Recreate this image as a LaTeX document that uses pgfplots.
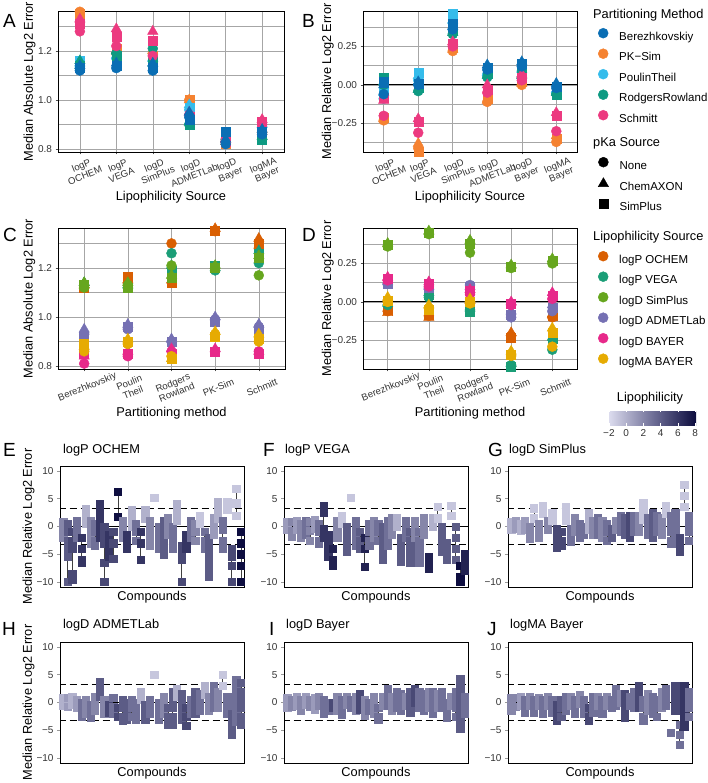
\documentclass[border=0pt]{standalone}
\usepackage{fontspec}
\setmainfont{Liberation Sans}
\usepackage{pgfplots}
\usepackage{pgfplotstable}
\pgfplotsset{compat=1.18}

\newcommand{\fT}{\fontsize{10}{11}\selectfont}
\newcommand{\fX}{\fontsize{9.6}{10.2}\selectfont}
\newcommand{\fL}{\fontsize{12.8}{14}\selectfont}
\newcommand{\fG}{\fontsize{11.5}{13}\selectfont}
\newcommand{\fP}{\fontsize{19}{21}\selectfont}

% partitioning methods
\definecolor{cB}{HTML}{0A6EB4}
\definecolor{cK}{HTML}{F58231}
\definecolor{cP}{HTML}{35BCEB}
\definecolor{cR}{HTML}{0E9A82}
\definecolor{cS}{HTML}{EC3A80}
% lipophilicity sources
\definecolor{cO}{HTML}{D95F02}
\definecolor{cV}{HTML}{1B9E77}
\definecolor{cL}{HTML}{66A61E}
\definecolor{cA}{HTML}{7570B3}
\definecolor{cY}{HTML}{E7298A}
\definecolor{cM}{HTML}{E6AB02}

\pgfplotsset{
  colormap={lipo}{rgb255=(222,222,240) rgb255=(112,112,152) rgb255=(12,12,62)},
  base/.style={scale only axis, anchor=south west,
    axis line style={black, line width=0.8pt},
    tick align=outside, major tick length=2.5pt, minor tick length=0pt,
    tick style={black!70, line width=0.5pt},
    xtick pos=left, ytick pos=left,
    ticklabel style={font=\fT, text=black!80},
    label style={font=\fL},
    /pgf/number format/assume math mode=true},
  sum/.style={base, height=141pt, grid=both,
    major grid style={black!35, line width=0.5pt},
    minor grid style={black!35, line width=0.5pt},
    xmin=-0.6,
    xticklabel style={font=\fX, rotate=22, anchor=center, align=center,
      yshift=-16pt, xshift=-3pt},
    ylabel style={anchor=center},
    xlabel style={anchor=center}},
  absy/.style={ymin=0.788, ymax=1.363, ytick={0.8,1.0,1.2},
    yticklabels={0.8,1.0,1.2}, minor ytick={0.9,1.1,1.3},
    ylabel={Median Absolute Log2 Error}},
  rely/.style={ymin=-0.435, ymax=0.48, ytick={-0.25,0,0.25},
    yticklabels={−0.25,0.00,0.25}, minor ytick={-0.375,-0.125,0.125,0.375},
    ylabel={Median Relative Log2 Error}},
  lipx/.style={xmax=5.6, xtick={0,...,5},
    xticklabels={{logP\\OCHEM},{logP\\VEGA},{logD\\SimPlus},{logD\\ADMETLab},{logD\\Bayer},{logMA\\Bayer}},
    xlabel={Lipophilicity Source}},
  parx/.style={xmax=4.6, xtick={0,...,4},
    xticklabels={Berezhkovskiy,{Poulin\\Theil},{Rodgers\\Rowland},PK-Sim,Schmitt},
    xlabel={Partitioning method}},
  cpd/.style={base, width=184pt, height=121pt, xmin=0.3, xmax=40.7,
    ymin=-10.9, ymax=10.9,
    ytick={-10,-5,0,5,10}, yticklabels={−10,−5,0,5,10},
    xtick=\empty, minor xtick={0.6,1.25,...,40.5},
    major tick length=3pt, minor tick length=3pt,
    tick style={black!40, line width=0.6pt},
    axis line style={black, line width=0.7pt},
    colormap name=lipo, point meta min=-2.1, point meta max=8.1,
    xlabel={Compounds},
    xlabel style={at={(axis description cs:0.5,-0.083)}, anchor=center},
    title style={anchor=west, font=\fL, inner sep=0pt}},
  cmark/.style={scatter, only marks, mark=square*, mark size=3.6pt,
    scatter/use mapped color={draw=mapped color, fill=mapped color},
    point meta=explicit, forget plot},
  lgd/.style={anchor=north west, hide axis, scale only axis, width=10pt, height=10pt,
    xmin=0, xmax=1, ymin=0, ymax=1,
    legend style={at={(axis description cs:0,1)}, anchor=north west, draw=none,
      fill=none, inner sep=0pt, font=\fG, row sep=6pt, column sep=11pt,
      nodes={inner sep=0pt, text height=8.5pt, text depth=2.5pt}},
    legend cell align=left,
    legend image code/.code={\draw[##1] plot coordinates {(0pt,4pt)};}},
}

% panel A: median absolute error, by lipophilicity source
\pgfplotstableread{
x Bc Bt Bs Kc Kt Ks Pc Pt Ps Rc Rt Rs Sc St Ss
0 1.12 1.14 1.13 1.36 1.37 1.35 1.14 1.15 1.16 1.13 1.16 1.14 1.28 1.33 1.31
1 1.13 1.15 1.14 1.19 1.20 1.21 1.17 1.18 1.16 1.19 1.20 1.18 1.22 1.29 1.26
2 1.12 1.15 1.13 1.19 1.20 1.18 1.16 1.17 1.14 1.21 1.15 1.16 1.18 1.28 1.24
3 0.93 0.95 0.92 1.00 1.00 1.00 0.96 0.98 0.97 0.90 0.91 0.90 0.94 0.95 0.93
4 0.82 0.84 0.87 0.83 0.83 0.82 0.83 0.84 0.85 0.84 0.84 0.83 0.83 0.84 0.83
5 0.86 0.88 0.87 0.86 0.88 0.87 0.89 0.90 0.88 0.84 0.85 0.84 0.90 0.92 0.91
}\tabA
% panel B: median relative error, by lipophilicity source
\pgfplotstableread{
x Bc Bt Bs Kc Kt Ks Pc Pt Ps Rc Rt Rs Sc St Ss
0 -0.06 0.00 0.02 -0.23 -0.22 -0.21 -0.09 -0.05 -0.02 0.00 0.02 0.05 -0.20 -0.10 -0.08
1 0.00 0.02 0.01 -0.41 -0.38 -0.43 0.03 0.06 0.08 -0.04 -0.03 -0.02 -0.31 -0.22 -0.24
2 0.36 0.38 0.40 0.22 0.23 0.24 0.40 0.42 0.46 0.33 0.34 0.35 0.25 0.28 0.27
3 0.10 0.13 0.11 -0.11 -0.10 -0.09 0.07 0.08 0.09 0.05 0.06 0.07 -0.05 0.00 -0.03
4 0.12 0.15 0.14 0.00 0.01 0.02 0.09 0.10 0.11 0.05 0.06 0.07 0.03 0.07 0.05
5 -0.02 0.01 -0.01 -0.37 -0.33 -0.35 -0.05 -0.03 -0.04 -0.06 -0.05 -0.06 -0.30 -0.18 -0.20
}\tabB
% panel C: median absolute error, by partitioning method
\pgfplotstableread{
x Oc Ot Os Vc Vt Vs Lc Lt Ls Ac At As Yc Yt Ys Mc Mt Ms
0 1.12 1.13 1.12 1.13 1.14 1.13 1.12 1.14 1.13 0.93 0.95 0.92 0.81 0.84 0.85 0.86 0.88 0.89
1 1.14 1.15 1.165 1.12 1.13 1.12 1.13 1.14 1.12 0.95 0.97 0.96 0.84 0.86 0.85 0.89 0.91 0.90
2 1.30 1.15 1.14 1.26 1.21 1.19 1.21 1.17 1.16 0.90 0.91 0.90 0.86 0.87 0.85 0.84 0.83 0.83
3 1.35 1.36 1.35 1.19 1.20 1.21 1.20 1.21 1.20 0.99 1.00 0.98 0.86 0.87 0.86 0.93 0.94 0.92
4 1.28 1.32 1.30 1.22 1.27 1.26 1.17 1.25 1.24 0.96 0.97 0.95 0.86 0.86 0.85 0.90 0.93 0.91
}\tabC
% panel D: median relative error, by partitioning method
\pgfplotstableread{
x Oc Ot Os Vc Vt Vs Lc Lt Ls Ac At As Yc Yt Ys Mc Mt Ms
0 -0.06 -0.07 -0.05 -0.02 -0.01 0.00 0.36 0.38 0.37 0.12 0.13 0.12 0.14 0.16 0.15 0.00 0.03 0.01
1 -0.09 -0.10 -0.08 0.03 0.06 0.05 0.44 0.46 0.45 0.09 0.10 0.09 0.10 0.13 0.12 -0.04 -0.02 -0.05
2 0.00 0.01 0.00 -0.05 -0.04 -0.06 0.32 0.40 0.38 0.11 0.10 0.10 0.05 0.08 0.07 -0.01 0.02 0.00
3 -0.22 -0.20 -0.23 -0.41 -0.40 -0.42 0.22 0.24 0.23 -0.10 -0.06 -0.08 -0.02 0.00 -0.01 -0.35 -0.32 -0.34
4 -0.10 -0.08 -0.09 -0.31 -0.23 -0.24 0.25 0.28 0.27 -0.06 -0.02 -0.04 0.02 0.06 0.04 -0.29 -0.17 -0.20
}\tabD

% per-compound errors: x = compound, y = relative log2 error, c = lipophilicity
\pgfplotstableread[row sep=\\]{
x y c\\
1 0.8 2\\1 -0.6 2\\1 -2 2\\1 nan 2\\
2 0.5 4\\2 -1 4\\2 -2.5 4\\2 -4 4\\2 -5.5 4\\2 -10 4\\2 nan 4\\
3 -1 5\\3 -2.5 5\\3 -4 5\\3 -8.5 5\\3 -9.5 5\\3 nan 5\\
4 1 3\\4 -0.5 3\\4 -2 3\\4 nan 3\\
5 -2 6\\5 -4 6\\5 -6 6\\5 -6.5 6\\5 nan 6\\
6 3.2 0\\6 1.8 0\\6 0.5 0\\6 nan 0\\
7 1 2\\7 -0.5 2\\7 -2 2\\7 -3 2\\7 nan 2\\
8 0.5 3\\8 -1 3\\8 -2.5 3\\8 -3.5 3\\8 nan 3\\
9 4 6\\9 2.5 6\\9 1 6\\9 -0.5 6\\9 -2 6\\9 nan 6\\
10 0 5\\10 -1.5 5\\10 -3 5\\10 -6.5 5\\10 -10 5\\10 nan 5\\
11 -1.5 6\\11 -3 6\\11 -4.5 6\\11 -5.5 6\\11 nan 6\\
12 -1 5\\12 -3 5\\12 -5.8 5\\12 nan 5\\
13 6.2 8\\13 1.8 8\\13 nan 8\\
14 1 2\\14 -0.5 2\\14 -2 2\\14 nan 2\\
15 -1.5 6\\15 -3 6\\15 -4 6\\15 nan 6\\
16 3 0\\16 1.5 0\\16 0 0\\16 nan 0\\
17 0.5 3\\17 -1 3\\17 -2.5 3\\17 nan 3\\
18 -1 6\\18 -3 6\\18 -6 6\\18 nan 6\\
19 3 0\\19 1.5 0\\19 nan 0\\
20 1 2\\20 -0.5 2\\20 -2 2\\20 -3.5 2\\20 nan 2\\
21 5.2 -1\\21 nan -1\\
22 0 3\\22 -1.5 3\\22 -3 3\\22 -4 3\\22 nan 3\\
23 1 4\\23 -0.5 4\\23 -2 4\\23 -3.5 4\\23 -5 4\\23 nan 4\\
24 1.5 2\\24 0 2\\24 -1.5 2\\24 nan 2\\
25 0 3\\25 -1.5 3\\25 -3 3\\25 -4 3\\25 nan 3\\
26 4 0\\26 2.5 0\\26 1 0\\26 nan 0\\
27 -3.5 5\\27 -5 5\\27 -6 5\\27 -10 5\\27 nan 5\\
28 -1.5 6\\28 -3 6\\28 -4 6\\28 nan 6\\
29 1 3\\29 -0.5 3\\29 -2 3\\29 nan 3\\
30 0.5 2\\30 -1 2\\30 -2.5 2\\30 nan 2\\
31 2 -1\\31 0.5 -1\\31 nan -1\\
32 -1 3\\32 -2.5 3\\32 -4 3\\32 nan 3\\
33 -2 4\\33 -3.5 4\\33 -5 4\\33 -6.5 4\\33 -8 4\\33 -9 4\\33 nan 4\\
34 1.5 1\\34 0 1\\34 -1.5 1\\34 nan 1\\
35 4.5 0\\35 3 0\\35 1.5 0\\35 nan 0\\
36 1 3\\36 -0.5 3\\36 -2.5 3\\36 -4 3\\36 nan 3\\
37 4.5 -1\\37 3 -1\\37 nan -1\\
38 -4 5\\38 -5.5 5\\38 -7 5\\38 -10 5\\38 nan 5\\
39 6.8 -1\\39 4.2 -1\\39 2 -1\\39 nan -1\\
40 -1 8\\40 -3 8\\40 -5 8\\40 -7 8\\40 -10 8\\40 nan 8\\
}\tabE
\pgfplotstableread[row sep=\\]{
x y c\\
1 0.8 1\\1 -0.5 1\\1 nan 1\\
2 0.8 2\\2 -0.7 2\\2 -1.8 2\\2 nan 2\\
3 1 1\\3 -0.5 1\\3 nan 1\\
4 0.5 2\\4 -1 2\\4 -2 2\\4 nan 2\\
5 1 3\\5 -0.5 3\\5 -1.5 3\\5 nan 3\\
6 0.8 2\\6 -0.8 2\\6 -2.5 2\\6 nan 2\\
7 1.2 1\\7 -0.3 1\\7 nan 1\\
8 0.5 3\\8 -1 3\\8 -2.5 3\\8 -3 3\\8 nan 3\\
9 3.8 6\\9 2.5 6\\9 -0.5 6\\9 -2 6\\9 nan 6\\
10 -1.5 6\\10 -3 6\\10 -4.5 6\\10 -5.5 6\\10 nan 6\\
11 -4 7\\11 -6 7\\11 -7 7\\11 nan 7\\
12 1 2\\12 -0.5 2\\12 -2 2\\12 nan 2\\
13 2 -1\\13 0.5 -1\\13 nan -1\\
14 0 4\\14 -1.5 4\\14 -3 4\\14 -4.5 4\\14 nan 4\\
15 5.2 -1\\15 nan -1\\
16 1 3\\16 -0.5 3\\16 -2 3\\16 -3.5 3\\16 nan 3\\
17 -1 4\\17 -2.5 4\\17 -4 4\\17 nan 4\\
18 -2 7\\18 -4 7\\18 -7.2 7\\18 nan 7\\
19 0.5 3\\19 -1 3\\19 -2.5 3\\19 -3.5 3\\19 nan 3\\
20 1 2\\20 -0.5 2\\20 -2 2\\20 nan 2\\
21 0.5 3\\21 -1 3\\21 -2.5 3\\21 nan 3\\
22 0 4\\22 -1.5 4\\22 -3 4\\22 -4.5 4\\22 -6 4\\22 nan 4\\
23 1 3\\23 -0.5 3\\23 -2 3\\23 -3.5 3\\23 nan 3\\
24 1.5 2\\24 0 2\\24 -1.5 2\\24 nan 2\\
25 1.5 0\\25 0 0\\25 nan 0\\
26 -2 4\\26 -3.5 4\\26 -5 4\\26 -6.3 4\\26 nan 4\\
27 1 3\\27 -0.5 3\\27 -2 3\\27 nan 3\\
28 -1 4\\28 -2.5 4\\28 -4 4\\28 -5.5 4\\28 -6.5 4\\28 nan 4\\
29 1 2\\29 -0.5 2\\29 -2 2\\29 nan 2\\
30 -1 3\\30 -2.5 3\\30 -4 3\\30 -5.5 3\\30 -6.5 3\\30 nan 3\\
31 1.5 2\\31 0 2\\31 -1.5 2\\31 nan 2\\
32 -5.5 7\\32 -6.5 7\\32 -7.5 7\\32 nan 7\\
33 1.5 0\\33 0 0\\33 nan 0\\
34 3.5 -1\\34 1.5 -1\\34 nan -1\\
35 0 4\\35 -1.5 4\\35 -3 4\\35 -4.5 4\\35 nan 4\\
36 -3 4\\36 -4.5 4\\36 -6 4\\36 nan 4\\
37 3.8 -1\\37 2 -1\\37 nan -1\\
38 0 4\\38 -2 4\\38 -4 4\\38 -6 4\\38 nan 4\\
39 -7 8\\39 -9 8\\39 -10 8\\39 nan 8\\
40 -5 7\\40 -6.5 7\\40 -8 7\\40 nan 7\\
}\tabF
\pgfplotstableread[row sep=\\]{
x y c\\
1 0.8 0\\1 -0.5 0\\1 nan 0\\
2 1 1\\2 -0.3 1\\2 nan 1\\
3 0.5 0\\3 -0.8 0\\3 nan 0\\
4 1 1\\4 -0.5 1\\4 nan 1\\
5 0 2\\5 -1.5 2\\5 -2.2 2\\5 nan 2\\
6 3.3 -1\\6 1.5 -1\\6 nan -1\\
7 0.5 2\\7 -1 2\\7 -2 2\\7 nan 2\\
8 3.8 -1\\8 2.3 -1\\8 nan -1\\
9 1 2\\9 -0.5 2\\9 nan 2\\
10 2.5 -1\\10 1 -1\\10 nan -1\\
11 -0.5 5\\11 -2 5\\11 -3.5 5\\11 -3.8 5\\11 nan 5\\
12 -1 5\\12 -2.5 5\\12 -3.5 5\\12 nan 5\\
13 3.6 -1\\13 2.3 -1\\13 1 -1\\13 nan -1\\
14 -0.5 3\\14 -2 3\\14 -2.8 3\\14 nan 3\\
15 1.5 2\\15 0 2\\15 -1 2\\15 nan 2\\
16 0.5 3\\16 -1 3\\16 -2 3\\16 nan 3\\
17 0 3\\17 -1.5 3\\17 nan 3\\
18 2.5 0\\18 1 0\\18 -0.5 0\\18 nan 0\\
19 1 2\\19 -0.5 2\\19 -1.5 2\\19 nan 2\\
20 1.5 3\\20 0 3\\20 -1.5 3\\20 nan 3\\
21 1 2\\21 -0.5 2\\21 -2 2\\21 nan 2\\
22 0.5 3\\22 -1 3\\22 -2.5 3\\22 nan 3\\
23 -0.5 4\\23 -2 4\\23 nan 4\\
24 1 2\\24 -0.5 2\\24 nan 2\\
25 2 3\\25 0.5 3\\25 -1 3\\25 nan 3\\
26 1.5 4\\26 0 4\\26 -1.5 4\\26 nan 4\\
27 2 5\\27 0.5 5\\27 -1 5\\27 -2 5\\27 nan 5\\
28 2 3\\28 0.5 3\\28 -1 3\\28 nan 3\\
29 2 2\\29 0.5 2\\29 -1 2\\29 nan 2\\
30 4.3 -1\\30 2.8 -1\\30 1.3 -1\\30 nan -1\\
31 1.5 3\\31 0 3\\31 -1.5 3\\31 nan 3\\
32 2.5 4\\32 1 4\\32 -0.5 4\\32 -2 4\\32 nan 4\\
33 2 3\\33 0.5 3\\33 -1 3\\33 nan 3\\
34 1.5 2\\34 0 2\\34 -1.5 2\\34 nan 2\\
35 3.8 -1\\35 2.3 -1\\35 nan -1\\
36 2 3\\36 0.5 3\\36 -1 3\\36 -2.5 3\\36 -3 3\\36 nan 3\\
37 2.5 3\\37 1 3\\37 -0.5 3\\37 -2 3\\37 -3 3\\37 nan 3\\
38 -2 5\\38 -3.5 5\\38 -4.5 5\\38 nan 5\\
39 7.5 -1\\39 5.5 -1\\39 3.5 -1\\39 nan -1\\
40 2 3\\40 0.5 3\\40 -1 3\\40 -2.5 3\\40 nan 3\\
}\tabG
\pgfplotstableread[row sep=\\]{
x y c\\
1 0.8 0\\1 -0.5 0\\1 nan 0\\
2 0.8 1\\2 -0.7 1\\2 nan 1\\
3 1 0\\3 -0.3 0\\3 nan 0\\
4 0.5 1\\4 -1 1\\4 nan 1\\
5 0 3\\5 -1.5 3\\5 -2.5 3\\5 nan 3\\
6 0.5 2\\6 -1 2\\6 -2 2\\6 nan 2\\
7 -0.5 3\\7 -2 3\\7 -2.8 3\\7 nan 3\\
8 1 2\\8 -0.5 2\\8 -1.5 2\\8 nan 2\\
9 3.7 4\\9 2.3 4\\9 1 4\\9 nan 4\\
10 0.5 2\\10 -1 2\\10 -2 2\\10 nan 2\\
11 -0.5 5\\11 -1.8 5\\11 nan 5\\
12 0.8 3\\12 -0.7 3\\12 -2 3\\12 nan 3\\
13 -1 5\\13 -2.5 5\\13 nan 5\\
14 0.5 4\\14 -1 4\\14 -2.5 4\\14 -3.3 4\\14 nan 4\\
15 0 4\\15 -1.5 4\\15 -3 4\\15 nan 4\\
16 0.5 3\\16 -1 3\\16 -2.5 3\\16 nan 3\\
17 0 3\\17 -1.5 3\\17 -3 3\\17 nan 3\\
18 2 0\\18 0.5 0\\18 nan 0\\
19 -0.5 4\\19 -2 4\\19 -3 4\\19 nan 4\\
20 0.5 3\\20 -1 3\\20 -2 3\\20 nan 3\\
21 5 -1\\21 nan -1\\
22 0 3\\22 -1.5 3\\22 -3 3\\22 nan 3\\
23 1 2\\23 -0.5 2\\23 -2 2\\23 nan 2\\
24 -1 4\\24 -2.5 4\\24 -4 4\\24 nan 4\\
25 2 4\\25 0.5 4\\25 -1 4\\25 -2.5 4\\25 -4 4\\25 nan 4\\
26 2.5 0\\26 1 0\\26 nan 0\\
27 1.5 4\\27 0 4\\27 -1.5 4\\27 -3 4\\27 nan 4\\
28 -1 5\\28 -2.5 5\\28 -4.2 5\\28 nan 5\\
29 0.5 3\\29 -1 3\\29 -2 3\\29 nan 3\\
30 2 4\\30 0.5 4\\30 -1 4\\30 -2 4\\30 nan 4\\
31 1.5 3\\31 0 3\\31 -1.5 3\\31 nan 3\\
32 3 0\\32 1.5 0\\32 nan 0\\
33 1 2\\33 -0.5 2\\33 -1.5 2\\33 nan 2\\
34 3 3\\34 1.5 3\\34 0 3\\34 -1 3\\34 nan 3\\
35 2 2\\35 0.5 2\\35 -1 2\\35 nan 2\\
36 5 -1\\36 3 -1\\36 nan -1\\
37 1 3\\37 -0.5 3\\37 -2 3\\37 nan 3\\
38 -2 4\\38 -3.5 4\\38 -5 4\\38 -5.8 4\\38 nan 4\\
39 4 3\\39 2.5 3\\39 1 3\\39 -0.5 3\\39 -2 3\\39 -3.5 3\\39 nan 3\\
40 3.5 4\\40 2 4\\40 0.5 4\\40 -1 4\\40 -2.5 4\\40 -4 4\\40 nan 4\\
}\tabH
\pgfplotstableread[row sep=\\]{
x y c\\
1 0.8 1\\1 -0.5 1\\1 -1 1\\1 nan 1\\
2 0.5 2\\2 -0.8 2\\2 nan 2\\
3 1 1\\3 -0.5 1\\3 nan 1\\
4 0.5 2\\4 -1 2\\4 -1.5 2\\4 nan 2\\
5 1 1\\5 -0.3 1\\5 nan 1\\
6 0.5 2\\6 -0.8 2\\6 nan 2\\
7 0.8 1\\7 -0.6 1\\7 -1.2 1\\7 nan 1\\
8 1 2\\8 -0.5 2\\8 nan 2\\
9 0.5 3\\9 -1 3\\9 -2 3\\9 nan 3\\
10 0 3\\10 -1.5 3\\10 nan 3\\
11 0 5\\11 -1 5\\11 nan 5\\
12 1 2\\12 -0.5 2\\12 -1.5 2\\12 nan 2\\
13 0.5 3\\13 -1 3\\13 -2.2 3\\13 nan 3\\
14 1 2\\14 -0.3 2\\14 nan 2\\
15 0.5 3\\15 -1 3\\15 nan 3\\
16 1 2\\16 -0.5 2\\16 -1.5 2\\16 nan 2\\
17 1.5 5\\17 0 5\\17 -1.3 5\\17 nan 5\\
18 0.5 2\\18 -1 2\\18 -2.3 2\\18 nan 2\\
19 0 3\\19 -1.5 3\\19 nan 3\\
20 1 2\\20 -0.5 2\\20 -2 2\\20 nan 2\\
21 -1 3\\21 -2.5 3\\21 -3 3\\21 nan 3\\
22 1 2\\22 -0.5 2\\22 nan 2\\
23 2.5 3\\23 1 3\\23 -0.5 3\\23 nan 3\\
24 1 2\\24 -0.5 2\\24 -1.5 2\\24 nan 2\\
25 2 3\\25 0.5 3\\25 -1 3\\25 nan 3\\
26 1.5 3\\26 0 3\\26 -1.5 3\\26 nan 3\\
27 1 2\\27 -0.5 2\\27 nan 2\\
28 2 4\\28 0.5 4\\28 -1 4\\28 -1.8 4\\28 nan 4\\
29 2.5 5\\29 1 5\\29 0 5\\29 nan 5\\
30 2 3\\30 0.5 3\\30 -1 3\\30 nan 3\\
31 1.5 3\\31 0 3\\31 -1.5 3\\31 nan 3\\
32 2 2\\32 0.5 2\\32 -1 2\\32 nan 2\\
33 2 3\\33 0.5 3\\33 -1 3\\33 -2 3\\33 nan 3\\
34 1.5 2\\34 0 2\\34 -1 2\\34 nan 2\\
35 2 3\\35 0.5 3\\35 -1 3\\35 nan 3\\
36 0 3\\36 -1.5 3\\36 -2.8 3\\36 nan 3\\
37 1 2\\37 -0.5 2\\37 nan 2\\
38 2 3\\38 0.5 3\\38 -1 3\\38 -2.5 3\\38 nan 3\\
39 4.3 4\\39 2.8 4\\39 1.3 4\\39 -0.2 4\\39 -1.7 4\\39 -3.2 4\\39 -4.7 4\\39 nan 4\\
40 1 3\\40 -0.5 3\\40 -2 3\\40 nan 3\\
}\tabI
\pgfplotstableread[row sep=\\]{
x y c\\
1 0.8 2\\1 -0.5 2\\1 -1.5 2\\1 nan 2\\
2 0.8 2\\2 -0.7 2\\2 nan 2\\
3 1 1\\3 -0.5 1\\3 nan 1\\
4 0.5 3\\4 -1 3\\4 -1.8 3\\4 nan 3\\
5 1 2\\5 -0.5 2\\5 nan 2\\
6 0.5 3\\6 -1 3\\6 -1.8 3\\6 nan 3\\
7 0.8 2\\7 -0.5 2\\7 nan 2\\
8 0.5 3\\8 -1 3\\8 -2 3\\8 nan 3\\
9 1 2\\9 -0.5 2\\9 nan 2\\
10 0.5 3\\10 -1 3\\10 -1.8 3\\10 nan 3\\
11 -0.5 5\\11 -2 5\\11 -3.3 5\\11 nan 5\\
12 0.5 4\\12 -1 4\\12 -2.5 4\\12 nan 4\\
13 1 3\\13 -0.5 3\\13 -1.5 3\\13 nan 3\\
14 1 2\\14 -0.5 2\\14 nan 2\\
15 0.5 3\\15 -1 3\\15 -2 3\\15 nan 3\\
16 1.3 2\\16 -0.2 2\\16 nan 2\\
17 0.5 3\\17 -1 3\\17 -2 3\\17 nan 3\\
18 -1 5\\18 -2.5 5\\18 -3.3 5\\18 nan 5\\
19 1 3\\19 -0.5 3\\19 -1.8 3\\19 nan 3\\
20 1 2\\20 -0.5 2\\20 nan 2\\
21 0.5 3\\21 -1 3\\21 -2 3\\21 nan 3\\
22 1 2\\22 -0.5 2\\22 nan 2\\
23 0.5 3\\23 -1 3\\23 nan 3\\
24 2.5 3\\24 1 3\\24 -0.5 3\\24 nan 3\\
25 1.5 2\\25 0 2\\25 nan 2\\
26 1.5 5\\26 0 5\\26 -1.5 5\\26 -2.8 5\\26 nan 5\\
27 1 3\\27 -0.5 3\\27 nan 3\\
28 2 3\\28 0.5 3\\28 -1 3\\28 nan 3\\
29 3 5\\29 1.5 5\\29 0 5\\29 -1 5\\29 nan 5\\
30 0.5 3\\30 -1 3\\30 -2.5 3\\30 -3.3 3\\30 nan 3\\
31 1.5 2\\31 0 2\\31 -1.5 2\\31 nan 2\\
32 1 3\\32 -0.5 3\\32 -2 3\\32 nan 3\\
33 0.5 3\\33 -1 3\\33 -2.5 3\\33 nan 3\\
34 2 2\\34 0.5 2\\34 -1 2\\34 nan 2\\
35 2.5 3\\35 1 3\\35 -0.5 3\\35 nan 3\\
36 -5.5 3\\36 nan 3\\
37 3 5\\37 1.5 5\\37 0 5\\37 -1.5 5\\37 nan 5\\
38 -4 3\\38 -5.8 3\\38 -7.6 3\\38 nan 3\\
39 3 6\\39 1.5 6\\39 0 6\\39 -1.5 6\\39 -3 6\\39 -4.3 6\\39 nan 6\\
40 2 3\\40 0.5 3\\40 -1 3\\40 -2.5 3\\40 nan 3\\
}\tabJ

\begin{document}
\begin{tikzpicture}
\useasboundingbox (0,0) rectangle (708pt,783pt);

% ---------- A ----------
\begin{axis}[sum, absy, lipx, at={(58pt,631pt)}, width=226pt,
  ylabel style={at={(axis description cs:-0.126,0.5)}},
  xlabel style={at={(axis description cs:0.5,-0.319)}}]
\pgfplotsinvokeforeach{K,P,R,S,B}{
  \addplot[only marks, mark=*, mark size=5pt, c#1, forget plot] table[x=x, y=#1c] {\tabA};
  \addplot[only marks, mark=triangle*, mark size=6pt, c#1, forget plot] table[x=x, y=#1t] {\tabA};
  \addplot[only marks, mark=square*, mark size=4.5pt, c#1, forget plot] table[x=x, y=#1s] {\tabA};
}
\end{axis}

% ---------- B ----------
\begin{axis}[sum, rely, lipx, at={(363pt,631pt)}, width=214pt,
  ylabel style={at={(axis description cs:-0.165,0.5)}},
  xlabel style={at={(axis description cs:0.5,-0.319)}}]
\pgfplotsinvokeforeach{K,P,R,S,B}{
  \addplot[only marks, mark=*, mark size=5pt, c#1, forget plot] table[x=x, y=#1c] {\tabB};
  \addplot[only marks, mark=triangle*, mark size=6pt, c#1, forget plot] table[x=x, y=#1t] {\tabB};
  \addplot[only marks, mark=square*, mark size=4.5pt, c#1, forget plot] table[x=x, y=#1s] {\tabB};
}
\addplot[black, line width=1pt, forget plot] coordinates {(-1,0) (6,0)};
\end{axis}

% ---------- C ----------
\begin{axis}[sum, absy, parx, at={(58pt,414pt)}, width=227pt,
  ylabel style={at={(axis description cs:-0.126,0.5)}},
  xlabel style={at={(axis description cs:0.5,-0.312)}}]
\pgfplotsinvokeforeach{O,V,L,A,Y,M}{
  \addplot[only marks, mark=*, mark size=5pt, c#1, forget plot] table[x=x, y=#1c] {\tabC};
  \addplot[only marks, mark=triangle*, mark size=6pt, c#1, forget plot] table[x=x, y=#1t] {\tabC};
  \addplot[only marks, mark=square*, mark size=4.5pt, c#1, forget plot] table[x=x, y=#1s] {\tabC};
}
\end{axis}

% ---------- D ----------
\begin{axis}[sum, rely, parx, at={(363pt,414pt)}, width=214pt,
  ylabel style={at={(axis description cs:-0.165,0.5)}},
  xlabel style={at={(axis description cs:0.5,-0.312)}}]
\pgfplotsinvokeforeach{O,V,L,A,Y,M}{
  \addplot[only marks, mark=*, mark size=5pt, c#1, forget plot] table[x=x, y=#1c] {\tabD};
  \addplot[only marks, mark=triangle*, mark size=6pt, c#1, forget plot] table[x=x, y=#1t] {\tabD};
  \addplot[only marks, mark=square*, mark size=4.5pt, c#1, forget plot] table[x=x, y=#1s] {\tabD};
}
\addplot[black, line width=1pt, forget plot] coordinates {(-1,0) (5,0)};
\end{axis}

% ---------- E-J ----------
\begin{axis}[cpd, at={(60pt,196pt)}, title={logP OCHEM},
  title style={at={(axis description cs:0.016,1.083)}},
  ylabel={Median Relative Log2 Error},
  ylabel style={at={(axis description cs:-0.171,0.5)}, anchor=center}]
\addplot[black!75, line width=0.5pt, unbounded coords=jump, forget plot] table[x=x, y=y] {\tabE};
\addplot[cmark] table[x=x, y=y, meta=c] {\tabE};
\addplot[black, line width=0.8pt, forget plot] coordinates {(0,0) (41,0)};
\addplot[black, line width=1pt, dash pattern=on 7pt off 4pt, forget plot] coordinates {(0,3.32) (41,3.32)};
\addplot[black, line width=1pt, dash pattern=on 7pt off 4pt, forget plot] coordinates {(0,-3.32) (41,-3.32)};
\end{axis}

\begin{axis}[cpd, at={(284pt,196pt)}, title={logP VEGA},
  title style={at={(axis description cs:0.005,1.083)}}]
\addplot[black!75, line width=0.5pt, unbounded coords=jump, forget plot] table[x=x, y=y] {\tabF};
\addplot[cmark] table[x=x, y=y, meta=c] {\tabF};
\addplot[black, line width=0.8pt, forget plot] coordinates {(0,0) (41,0)};
\addplot[black, line width=1pt, dash pattern=on 7pt off 4pt, forget plot] coordinates {(0,3.32) (41,3.32)};
\addplot[black, line width=1pt, dash pattern=on 7pt off 4pt, forget plot] coordinates {(0,-3.32) (41,-3.32)};
\end{axis}

\begin{axis}[cpd, at={(508pt,196pt)}, title={logD SimPlus},
  title style={at={(axis description cs:0.005,1.083)}},
  colorbar horizontal,
  colorbar style={at={(0.5435,1.3306)}, anchor=south west, scale only axis,
    width=88pt, height=17pt,
    xtick={-2,0,2,4,6,8}, xticklabels={−2,0,2,4,6,8},
    xticklabel style={font=\fT, text=black!80},
    tick align=inside, xtick pos=both, xticklabel pos=lower,
    major tick length=3pt, tick style={white, line width=0.6pt},
    axis line style={draw=none}}]
\addplot[black!75, line width=0.5pt, unbounded coords=jump, forget plot] table[x=x, y=y] {\tabG};
\addplot[cmark] table[x=x, y=y, meta=c] {\tabG};
\addplot[black, line width=0.8pt, forget plot] coordinates {(0,0) (41,0)};
\addplot[black, line width=1pt, dash pattern=on 7pt off 4pt, forget plot] coordinates {(0,3.32) (41,3.32)};
\addplot[black, line width=1pt, dash pattern=on 7pt off 4pt, forget plot] coordinates {(0,-3.32) (41,-3.32)};
\end{axis}

\begin{axis}[cpd, at={(60pt,20pt)}, title={logD ADMETLab},
  title style={at={(axis description cs:0.016,1.09)}},
  ylabel={Median Relative Log2 Error},
  ylabel style={at={(axis description cs:-0.171,0.5)}, anchor=center}]
\addplot[black!75, line width=0.5pt, unbounded coords=jump, forget plot] table[x=x, y=y] {\tabH};
\addplot[cmark] table[x=x, y=y, meta=c] {\tabH};
\addplot[black, line width=0.8pt, forget plot] coordinates {(0,0) (41,0)};
\addplot[black, line width=1pt, dash pattern=on 7pt off 4pt, forget plot] coordinates {(0,3.32) (41,3.32)};
\addplot[black, line width=1pt, dash pattern=on 7pt off 4pt, forget plot] coordinates {(0,-3.32) (41,-3.32)};
\end{axis}

\begin{axis}[cpd, at={(284pt,20pt)}, title={logD Bayer},
  title style={at={(axis description cs:0.011,1.09)}}]
\addplot[black!75, line width=0.5pt, unbounded coords=jump, forget plot] table[x=x, y=y] {\tabI};
\addplot[cmark] table[x=x, y=y, meta=c] {\tabI};
\addplot[black, line width=0.8pt, forget plot] coordinates {(0,0) (41,0)};
\addplot[black, line width=1pt, dash pattern=on 7pt off 4pt, forget plot] coordinates {(0,3.32) (41,3.32)};
\addplot[black, line width=1pt, dash pattern=on 7pt off 4pt, forget plot] coordinates {(0,-3.32) (41,-3.32)};
\end{axis}

\begin{axis}[cpd, at={(508pt,20pt)}, title={logMA Bayer},
  title style={at={(axis description cs:0.011,1.09)}}]
\addplot[black!75, line width=0.5pt, unbounded coords=jump, forget plot] table[x=x, y=y] {\tabJ};
\addplot[cmark] table[x=x, y=y, meta=c] {\tabJ};
\addplot[black, line width=0.8pt, forget plot] coordinates {(0,0) (41,0)};
\addplot[black, line width=1pt, dash pattern=on 7pt off 4pt, forget plot] coordinates {(0,3.32) (41,3.32)};
\addplot[black, line width=1pt, dash pattern=on 7pt off 4pt, forget plot] coordinates {(0,-3.32) (41,-3.32)};
\end{axis}

% ---------- legends ----------
\node[anchor=west, font=\fL, inner sep=0pt] at (593pt,768pt) {Partitioning Method};
\begin{axis}[lgd, at={(598pt,755pt)}]
\addlegendimage{only marks, mark=*, mark size=5pt, cB}\addlegendentry{Berezhkovskiy}
\addlegendimage{only marks, mark=*, mark size=5pt, cK}\addlegendentry{PK−Sim}
\addlegendimage{only marks, mark=*, mark size=5pt, cP}\addlegendentry{PoulinTheil}
\addlegendimage{only marks, mark=*, mark size=5pt, cR}\addlegendentry{RodgersRowland}
\addlegendimage{only marks, mark=*, mark size=5pt, cS}\addlegendentry{Schmitt}
\end{axis}

\node[anchor=west, font=\fL, inner sep=0pt] at (593pt,640pt) {pKa Source};
\begin{axis}[lgd, at={(598pt,626pt)}]
\addlegendimage{only marks, mark=*, mark size=5pt, black}\addlegendentry{None}
\addlegendimage{only marks, mark=triangle*, mark size=6pt, black}\addlegendentry{ChemAXON}
\addlegendimage{only marks, mark=square*, mark size=4.5pt, black}\addlegendentry{SimPlus}
\end{axis}

\node[anchor=west, font=\fL, inner sep=0pt] at (593pt,546pt) {Lipophilicity Source};
\begin{axis}[lgd, at={(598pt,532pt)}]
\addlegendimage{only marks, mark=*, mark size=5pt, cO}\addlegendentry{logP OCHEM}
\addlegendimage{only marks, mark=*, mark size=5pt, cV}\addlegendentry{logP VEGA}
\addlegendimage{only marks, mark=*, mark size=5pt, cL}\addlegendentry{logD SimPlus}
\addlegendimage{only marks, mark=*, mark size=5pt, cA}\addlegendentry{logD ADMETLab}
\addlegendimage{only marks, mark=*, mark size=5pt, cY}\addlegendentry{logD BAYER}
\addlegendimage{only marks, mark=*, mark size=5pt, cM}\addlegendentry{logMA BAYER}
\end{axis}

\node[anchor=center, font=\fL, inner sep=0pt] at (650pt,385pt) {Lipophilicity};

% ---------- panel letters ----------
\foreach \l/\x/\y in {A/3/769, B/302/769, C/3/555, D/302/555,
  E/3/340, F/263/340, G/488/340, H/2/161, I/269/161, J/487/161}{
  \node[anchor=north west, inner sep=0pt, font=\fP] at (\x pt,\y pt) {\l};
}
\end{tikzpicture}
\end{document}
